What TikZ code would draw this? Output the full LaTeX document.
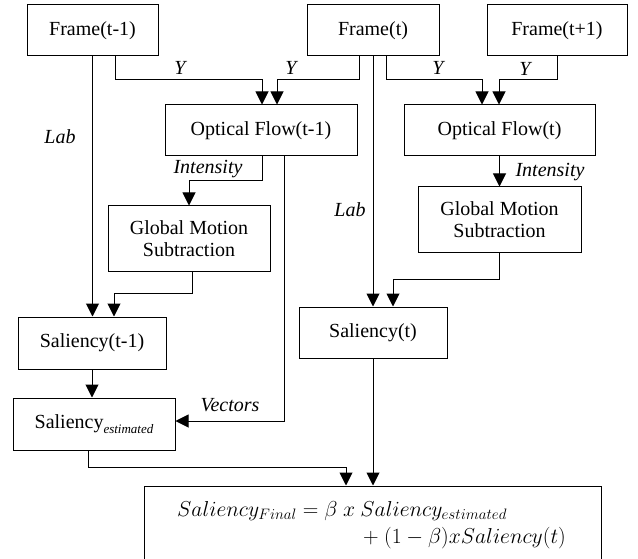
\RequirePackage{fix-cm}
\documentclass[tikz,border=0pt]{standalone}
\usepackage{fontspec}
\setmainfont{Liberation Serif}
\usetikzlibrary{arrows.meta,calc}
\begin{document}
\begin{tikzpicture}[x=1pt,y=-1pt,
  font=\fontsize{20}{22}\selectfont,
  box/.style={draw,line width=1pt,inner sep=0pt,align=center,minimum height=51pt},
  arr/.style={line width=1pt,-{Triangle[width=13pt,length=13pt]}},
  lbl/.style={font=\fontsize{20}{22}\selectfont\itshape,inner sep=0pt},
  eq/.style={inner sep=0pt,font=\fontsize{21.6}{24}\selectfont}]
\useasboundingbox (0,0) rectangle (638,559);
% boxes
\node[box,minimum width=131pt] (f1) at (92.5,30.5) {Frame(t-1)};
\node[box,minimum width=132pt] (f2) at (373,30.5) {Frame(t)};
\node[box,minimum width=140pt] (f3) at (557,30.5) {Frame(t+1)};
\node[box,minimum width=192pt] (of1) at (261,130.5) {Optical Flow(t-1)};
\node[box,minimum width=191pt] (of2) at (499.5,130.5) {Optical Flow(t)};
\node[box,minimum width=162pt,minimum height=66pt] (g1) at (189,239) {Global Motion\\Subtraction};
\node[box,minimum width=163pt,minimum height=66pt] (g2) at (499.5,220) {Global Motion\\Subtraction};
\node[box,minimum width=148pt,minimum height=52pt] (s1) at (92,343) {Saliency(t-1)};
\node[box,minimum width=148pt] (s2) at (373,332.5) {Saliency(t)};
\node[box,minimum width=162pt,minimum height=52pt] (se) at (94,424) {Saliency\raisebox{-5pt}{\fontsize{13}{14}\selectfont\itshape estimated}};
\node[box,minimum width=457pt,minimum height=89pt] (fin) at (372.5,530.5) {};
\node[eq,anchor=base west] (fa) at (177,516) {$Saliency_{Final}=\beta\ x\ Saliency_{estimated}$};
\node[eq,anchor=base east] (fb) at (566,543) {$+\ (1-\beta)xSaliency(t)$};
% connectors
\draw[arr] (f1.south) -- (f1.south |- s1.north);
\node[lbl] (lab1) at (60,137) {Lab};
\draw[arr] ($(f1.south)+(22.5,0)$) |- ($(of1.north)+(1,-25)$) -- ($(of1.north)+(1,0)$);
\node[lbl] (y1) at (180,68) {Y};
\draw[arr] ($(f2.south)+(-14,0)$) |- ($(of1.north)+(16,-25)$) -- ($(of1.north)+(16,0)$);
\node[lbl] (y2) at (291,68) {Y};
\draw[arr] (f2.south) -- (s2.north);
\node[lbl] (lab2) at (350,210) {Lab};
\draw[arr] ($(f2.south)+(13,0)$) |- ($(of2.north)+(-17.5,-25)$) -- ($(of2.north)+(-17.5,0)$);
\node[lbl] (y3) at (438,68) {Y};
\draw[arr] (f3.south) |- ($(of2.north)+(-0.5,-25)$) -- ($(of2.north)+(-0.5,0)$);
\node[lbl] (y4) at (525,69) {Y};
\draw[arr] ($(of1.south)+(1,0)$) |- ($(g1.north)+(0,-25)$) -- (g1.north);
\node[lbl] (in1) at (208,169) {Intensity};
\draw[arr] ($(of1.south)+(23,0)$) |- ($(se.east)+(0,-3)$);
\node[lbl] (vec) at (230,405) {Vectors};
\draw[arr] (of2.south) -- (g2.north);
\node[lbl] (in2) at (550,172) {Intensity};
\draw[arr] ($(g1.south)+(3,0)$) |- ($(s1.north)+(22,-23)$) -- ($(s1.north)+(22,0)$);
\draw[arr] (g2.south) |- ($(s2.north)+(20,-27)$) -- ($(s2.north)+(20,0)$);
\draw[arr] (s1.south) -- (s1.south |- se.north);
\draw[arr] ($(se.south)+(-6,0)$) |- ($(fin.north)+(-26.5,-18)$) -- ($(fin.north)+(-26.5,0)$);
\draw[arr] (s2.south) -- (s2.south |- fin.north);
\end{tikzpicture}
\end{document}
